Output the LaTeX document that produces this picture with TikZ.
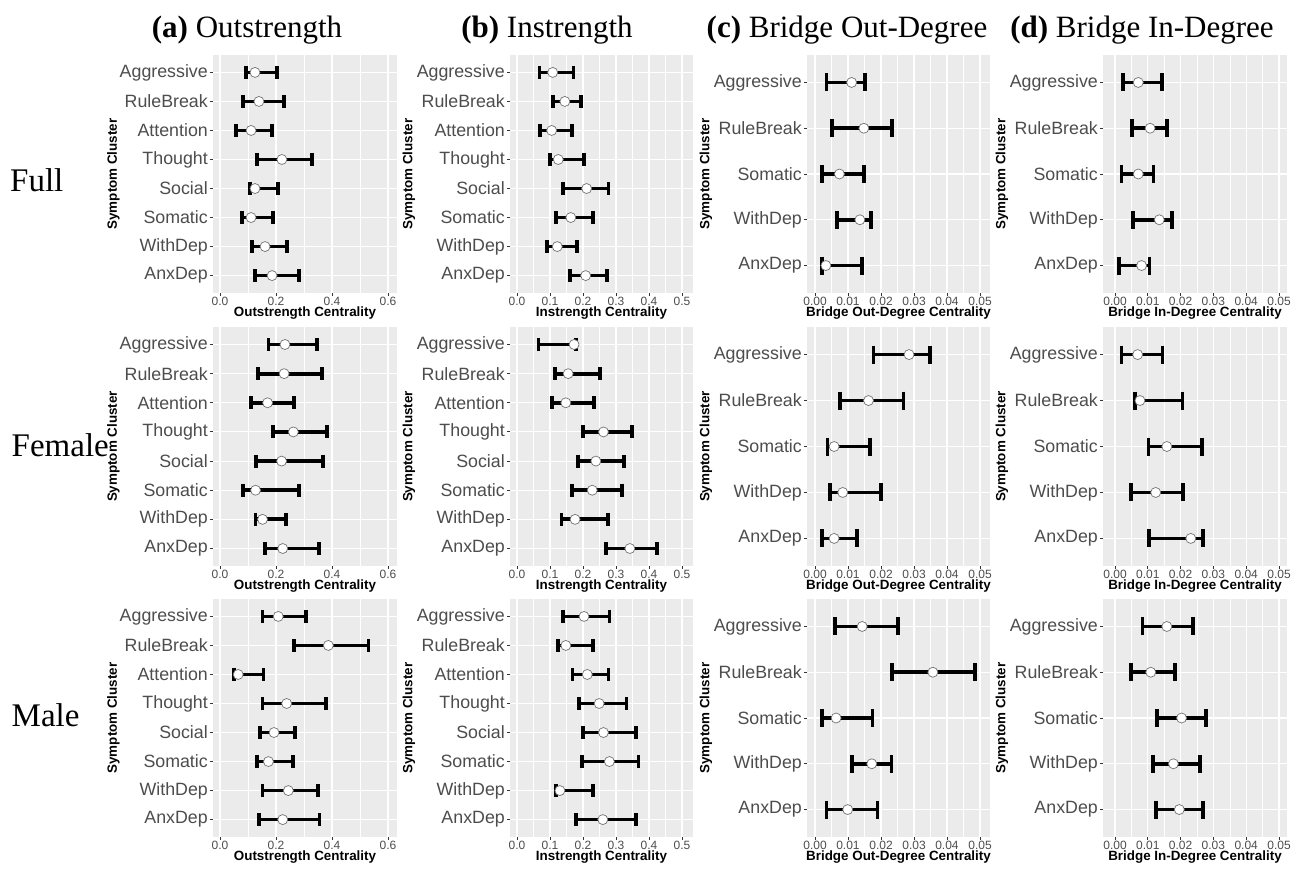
\documentclass[tikz,border=0pt]{standalone}
\usepackage{fontspec}
\setmainfont{Liberation Serif}
\newfontfamily\arialf{Liberation Sans}
\definecolor{gbg}{HTML}{EBEBEB}
\definecolor{gtxt}{HTML}{4D4D4D}
\definecolor{gtick}{HTML}{333333}
\tikzset{
  panelbg/.style={fill=gbg},
  gridmajor/.style={draw=white, line width=1.1pt},
  gridminor/.style={draw=white, line width=0.5pt},
  tickmark/.style={draw=gtick, line width=0.9pt},
  ticklab/.style={font=\arialf\fontsize{12}{13}\selectfont, text=gtxt, inner sep=0pt},
  catlab/.style={font=\arialf\fontsize{17.8}{20}\selectfont, text=gtxt, anchor=east, inner sep=0pt},
  axtitle/.style={font=\arialf\bfseries\fontsize{13.4}{14}\selectfont, inner sep=0pt},
  ebarline/.style={draw=black, line width=3.8pt},
  ptstyle/.style={fill=white, draw=black!55, line width=0.7pt},
  coltitle/.style={font=\fontsize{31}{34}\selectfont, anchor=base, inner sep=0pt},
  rowlab/.style={font=\fontsize{33}{36}\selectfont, anchor=base west, inner sep=0pt}
}
\newcommand{\colA}{\def\gxa{213}\def\gxb{397}\def\xo{220}\def\xs{280}\def\ncat{8}\def\ylabx{113.5}\def\caph{6.5}%
  \def\catlist{Aggressive,RuleBreak,Attention,Thought,Social,Somatic,WithDep,AnxDep}%
  \def\majlist{0/0.0,0.2/0.2,0.4/0.4,0.6/0.6}\def\minlist{0.1,0.3,0.5}\def\axt{Outstrength Centrality}}
\newcommand{\colB}{\def\gxa{510}\def\gxb{693}\def\xo{517}\def\xs{330}\def\ncat{8}\def\ylabx{409}\def\caph{6.5}%
  \def\catlist{Aggressive,RuleBreak,Attention,Thought,Social,Somatic,WithDep,AnxDep}%
  \def\majlist{0/0.0,0.1/0.1,0.2/0.2,0.3/0.3,0.4/0.4,0.5/0.5}\def\minlist{0.05,0.15,0.25,0.35,0.45}\def\axt{Instrength Centrality}}
\newcommand{\colC}{\def\gxa{807}\def\gxb{990}\def\xo{815}\def\xs{3300}\def\ncat{5}\def\ylabx{706}\def\caph{9}%
  \def\catlist{Aggressive,RuleBreak,Somatic,WithDep,AnxDep}%
  \def\majlist{0/0.00,0.01/0.01,0.02/0.02,0.03/0.03,0.04/0.04,0.05/0.05}\def\minlist{0.005,0.015,0.025,0.035,0.045}\def\axt{Bridge Out-Degree Centrality}}
\newcommand{\colD}{\def\gxa{1103}\def\gxb{1287}\def\xo{1115}\def\xs{3280}\def\ncat{5}\def\ylabx{1002}\def\caph{9}%
  \def\catlist{Aggressive,RuleBreak,Somatic,WithDep,AnxDep}%
  \def\majlist{0/0.00,0.01/0.01,0.02/0.02,0.03/0.03,0.04/0.04,0.05/0.05}\def\minlist{0.005,0.015,0.025,0.035,0.045}\def\axt{Bridge In-Degree Centrality}}
\newcommand{\rowA}{\def\gya{55}\def\gyb{293}}
\newcommand{\rowB}{\def\gya{327}\def\gyb{566}}
\newcommand{\rowC}{\def\gya{599}\def\gyb{837}}
\newcommand{\panelbase}{%
  \fill[panelbg] (\gxa,\gya) rectangle (\gxb,\gyb);
  \foreach \tkv in \minlist {\draw[gridminor] ({\xo+\xs*\tkv},\gya) -- ({\xo+\xs*\tkv},\gyb);}
  \foreach \tkv/\tkl in \majlist {
    \draw[gridmajor] ({\xo+\xs*\tkv},\gya) -- ({\xo+\xs*\tkv},\gyb);
    \draw[tickmark] ({\xo+\xs*\tkv},\gyb) -- ++(0,3);
    \node[ticklab, anchor=north] (tl) at ({\xo+\xs*\tkv},{\gyb+4}) {\tkl};
  }
  \foreach \lab [count=\ci] in \catlist {
    \pgfmathsetmacro\cyy{\gya+(\ci-0.4)*(\gyb-\gya)/(\ncat+0.2)}
    \draw[gridmajor] (\gxa,\cyy) -- (\gxb,\cyy);
    \draw[tickmark] (\gxa,\cyy) -- ++(-3.5,0);
    \node[catlab] (cl) at ({\gxa-5},\cyy) {\lab};
  }
  \node[axtitle] (ax) at ({(\gxa+\gxb)/2},{\gyb+20.5}) {\axt};
  \node[axtitle, rotate=90] (ay) at (\ylabx,{(\gya+\gyb)/2}) {Symptom Cluster};
}
\newcommand{\ebar}[4]{%
  \pgfmathsetmacro\ebY{\gya+(#1-0.4)*(\gyb-\gya)/(\ncat+0.2)}%
  \pgfmathsetmacro\ebL{\xo+\xs*#2}%
  \pgfmathsetmacro\ebM{\xo+\xs*#3}%
  \pgfmathsetmacro\ebH{\xo+\xs*#4}%
  \draw[ebarline] (\ebL,\ebY) -- (\ebH,\ebY);
  \draw[ebarline] (\ebL,{\ebY-\caph}) -- (\ebL,{\ebY+\caph});
  \draw[ebarline] (\ebH,{\ebY-\caph}) -- (\ebH,{\ebY+\caph});
  \draw[ptstyle] (\ebM,\ebY) circle[radius=5pt];
}
\newcommand{\bars}[1]{\foreach \eI/\eL/\eM/\eH in {#1} {\ebar{\eI}{\eL}{\eM}{\eH}}}
\begin{document}
\begin{tikzpicture}[x=1pt,y=-1pt]
\useasboundingbox (0,0) rectangle (1298,868);
\fill[white] (0,0) rectangle (1298,868);
% column titles
\node[coltitle] (ta) at (247,37) {\textbf{(a)} Outstrength};
\node[coltitle] (tb) at (547,37) {\textbf{(b)} Instrength};
\node[coltitle] (tc) at (847,37) {\textbf{(c)} Bridge Out-Degree};
\node[coltitle] (td) at (1142,37) {\textbf{(d)} Bridge In-Degree};
% row labels
\node[rowlab] (rfull) at (10,191.7) {Full};
\node[rowlab] (rfem) at (11.5,456.7) {Female};
\node[rowlab] (rmale) at (11.5,726.7) {Male};
% ---------- Full ----------
\rowA
\colA\panelbase
\bars{1/0.093/0.125/0.204, 2/0.082/0.139/0.229, 3/0.057/0.111/0.186, 4/0.132/0.221/0.329,
      5/0.107/0.125/0.207, 6/0.079/0.111/0.189, 7/0.114/0.161/0.239, 8/0.125/0.186/0.282}
\colB\panelbase
\bars{1/0.068/0.108/0.171, 2/0.110/0.145/0.194, 3/0.070/0.105/0.166, 4/0.100/0.125/0.204,
      5/0.140/0.211/0.277, 6/0.118/0.163/0.231, 7/0.090/0.122/0.183, 8/0.161/0.208/0.272}
\colC\panelbase
\bars{1/0.0035/0.0111/0.0152, 2/0.0052/0.0148/0.0234, 3/0.0020/0.0074/0.0148,
      4/0.0066/0.0136/0.0170, 5/0.0020/0.0033/0.0143}
\colD\panelbase
\bars{1/0.0025/0.0071/0.0142, 2/0.0053/0.0107/0.0159, 3/0.0020/0.0071/0.0117,
      4/0.0056/0.0135/0.0173, 5/0.0012/0.0081/0.0105}
% ---------- Female ----------
\rowB
\colA\panelbase
\bars{1/0.173/0.232/0.345, 2/0.135/0.229/0.363, 3/0.110/0.170/0.264, 4/0.190/0.262/0.382,
      5/0.129/0.220/0.368, 6/0.083/0.127/0.282, 7/0.127/0.152/0.236, 8/0.161/0.224/0.354}
\colB\panelbase
\bars{1/0.065/0.173/0.179, 2/0.115/0.155/0.252, 3/0.107/0.148/0.233, 4/0.201/0.262/0.349,
      5/0.184/0.239/0.325, 6/0.166/0.228/0.317, 7/0.135/0.176/0.275, 8/0.269/0.342/0.423}
\colC\panelbase
\bars{1/0.0177/0.0285/0.0348, 2/0.0076/0.0162/0.0268, 3/0.0038/0.0058/0.0167,
      4/0.0045/0.0084/0.0200, 5/0.0020/0.0058/0.0126}
\colD\panelbase
\bars{1/0.0020/0.0069/0.0145, 2/0.0061/0.0076/0.0206, 3/0.0102/0.0158/0.0264,
      4/0.0049/0.0124/0.0208, 5/0.0104/0.0231/0.0269}
% ---------- Male ----------
\rowC
\colA\panelbase
\bars{1/0.152/0.208/0.307, 2/0.264/0.387/0.530, 3/0.051/0.065/0.155, 4/0.152/0.238/0.379,
      5/0.143/0.193/0.268, 6/0.133/0.173/0.262, 7/0.152/0.244/0.351, 8/0.140/0.224/0.355}
\colB\panelbase
\bars{1/0.140/0.203/0.280, 2/0.125/0.148/0.231, 3/0.168/0.213/0.277, 4/0.189/0.249/0.332,
      5/0.201/0.262/0.361, 6/0.198/0.280/0.368, 7/0.118/0.130/0.231, 8/0.178/0.260/0.361}
\colC\panelbase
\bars{1/0.0061/0.0143/0.0251, 2/0.0234/0.0357/0.0485, 3/0.0020/0.0064/0.0174,
      4/0.0111/0.0172/0.0232, 5/0.0035/0.0099/0.0189}
\colD\panelbase
\bars{1/0.0084/0.0158/0.0239, 2/0.0049/0.0109/0.0183, 3/0.0129/0.0203/0.0277,
      4/0.0115/0.0178/0.0259, 5/0.0124/0.0196/0.0269}
\end{tikzpicture}
\end{document}
